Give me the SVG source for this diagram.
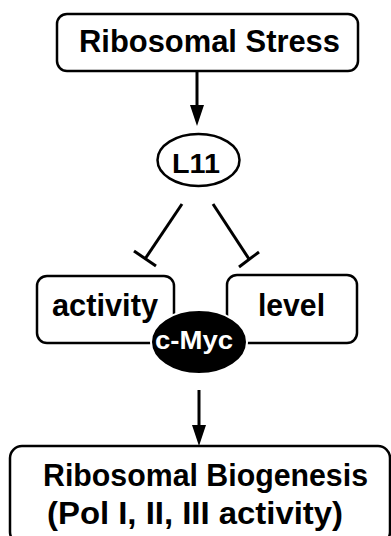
<svg xmlns="http://www.w3.org/2000/svg" width="391" height="536" viewBox="0 0 391 536">
<defs>
<style>
.box{fill:#fff;stroke:#000;stroke-width:2.5}
.t{font-family:"Liberation Sans",Arial,sans-serif;font-weight:bold;fill:#000;text-anchor:middle}
.c{stroke:#000;stroke-width:3;fill:none}
</style>
</defs>
<rect width="391" height="536" fill="#fff"/>
<g id="connectors">
<line class="c" x1="197" y1="71" x2="197" y2="108"/>
<path d="M190,105 L204,105 L197,126 Z" fill="#000"/>
<line class="c" x1="182" y1="204" x2="145" y2="259"/>
<line class="c" x1="134" y1="251" x2="156" y2="266"/>
<line class="c" x1="213" y1="204" x2="249" y2="259"/>
<line class="c" x1="239" y1="267" x2="259" y2="252"/>
<line class="c" x1="199" y1="390" x2="199" y2="428"/>
<path d="M192,425 L206,425 L199,446 Z" fill="#000"/>
</g>
<g id="ribosomal-stress">
<rect class="box" x="57" y="14" width="301" height="57" rx="10"/>
<text class="t" x="209.5" y="52" font-size="31" textLength="261" lengthAdjust="spacingAndGlyphs">Ribosomal Stress</text>
</g>
<g id="l11">
<ellipse cx="198.5" cy="160" rx="41" ry="26" fill="#fff" stroke="#000" stroke-width="2.5"/>
<text class="t" x="196" y="173" font-size="27.5" textLength="48" lengthAdjust="spacingAndGlyphs">L11</text>
</g>
<g id="activity">
<rect class="box" x="37" y="276" width="137" height="67" rx="10"/>
<text class="t" x="105" y="316" font-size="31" textLength="106" lengthAdjust="spacingAndGlyphs">activity</text>
</g>
<g id="level">
<rect class="box" x="227" y="275" width="130" height="68" rx="10"/>
<text class="t" x="291.5" y="316" font-size="31" textLength="67" lengthAdjust="spacingAndGlyphs">level</text>
</g>
<g id="c-myc">
<ellipse cx="199" cy="342" rx="48" ry="32" fill="#000" stroke="#fff" stroke-width="2"/>
<text class="t" x="194" y="349" font-size="25" style="fill:#fff" textLength="78" lengthAdjust="spacingAndGlyphs">c-Myc</text>
</g>
<g id="ribosomal-biogenesis">
<rect class="box" x="10" y="446" width="380" height="98" rx="12"/>
<text class="t" x="205.5" y="486" font-size="31" textLength="325" lengthAdjust="spacingAndGlyphs">Ribosomal Biogenesis</text>
<text class="t" x="195" y="524" font-size="31" textLength="296" lengthAdjust="spacingAndGlyphs">(Pol I, II, III activity)</text>
</g>
</svg>
